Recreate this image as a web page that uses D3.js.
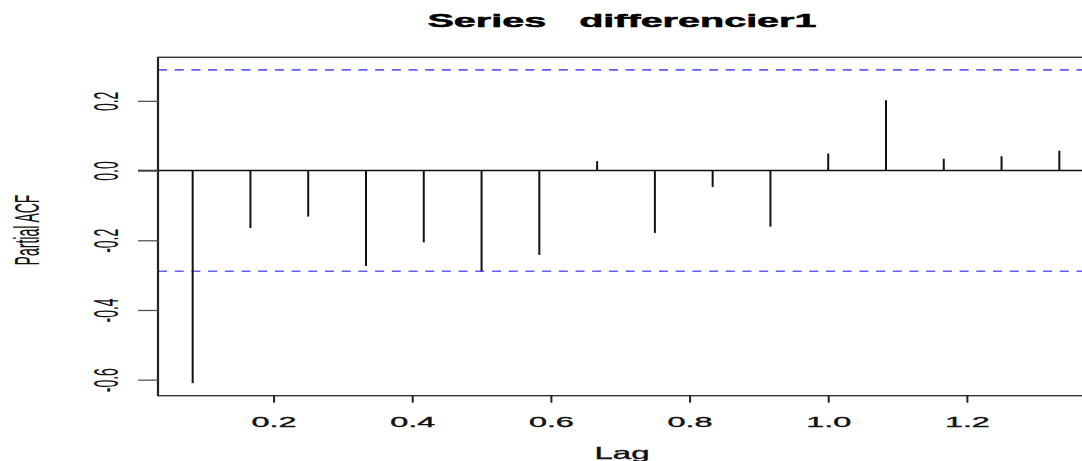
<!DOCTYPE html>
<html>
<head>
<meta charset="utf-8">
<script src="https://cdn.jsdelivr.net/npm/d3@7"></script>
<style>
  body { margin: 0; background: #fff; }
  svg { display: block; font-family: "Liberation Sans", Arial, sans-serif; }
  .keep-space { white-space: pre; }
</style>
</head>
<body>
<svg id="chart" width="1082" height="461"></svg>
<script>
// lag in months, series frequency 12 -> lag axis in years
let lagMonths = [1, 2, 3, 4, 5, 6, 7, 8, 9, 10, 11, 12, 13, 14, 15, 16];
let frequency = 12;
let pacfValues = [-0.610, -0.165, -0.132, -0.274, -0.206, -0.289, -0.242, 0.027,
                  -0.179, -0.047, -0.161, 0.049, 0.202, 0.034, 0.041, 0.057];
let confLimit = 0.289;
let xTicks = [0.2, 0.4, 0.6, 0.8, 1.0, 1.2];
let yTicks = [-0.6, -0.4, -0.2, 0.0, 0.2];
let titleText = "Series   differencier1";

let data = lagMonths.map((m, i) => ({ lag: m / frequency, value: pacfValues[i] }));

let svg = d3.select("#chart");
let plotLeft = 158, plotRight = 1094, plotTop = 57.3, plotBottom = 395.7;

// R style limits: data range padded by 4%
let xExt = d3.extent(data, d => d.lag);
let xPad = (xExt[1] - xExt[0]) * 0.04;
let x = d3.scaleLinear().domain([xExt[0] - xPad, xExt[1] + xPad]).range([plotLeft, plotRight]);

let yExt = d3.extent(pacfValues.concat([-confLimit, confLimit]));
let yPad = (yExt[1] - yExt[0]) * 0.04;
let y = d3.scaleLinear().domain([yExt[0] - yPad, yExt[1] + yPad]).range([plotBottom, plotTop]);

// the original picture is stretched sideways, so glyphs are widened
let stretch = 2.45;

// title
svg.append("text")
    .attr("class", "keep-space")
    .attr("x", 622).attr("y", 27)
    .attr("text-anchor", "middle")
    .attr("font-size", 19).attr("font-weight", "bold")
    .attr("textLength", 389).attr("lengthAdjust", "spacingAndGlyphs")
    .attr("stroke", "#000").attr("stroke-width", 0.5)
    .text(titleText);

// zero line
svg.append("line")
    .attr("x1", plotLeft - 20).attr("x2", plotRight)
    .attr("y1", y(0)).attr("y2", y(0))
    .attr("stroke", "#111").attr("stroke-width", 1.4);

// confidence bands
[confLimit, -confLimit].forEach(c => {
    svg.append("line")
        .attr("x1", plotLeft).attr("x2", plotRight)
        .attr("y1", y(c)).attr("y2", y(c))
        .attr("stroke", "#5f5fff").attr("stroke-width", 1.6)
        .attr("stroke-dasharray", "9,7.7");
});

// spikes
svg.selectAll(".spike")
    .data(data)
    .enter().append("line")
    .attr("class", "spike")
    .attr("x1", d => x(d.lag)).attr("x2", d => x(d.lag))
    .attr("y1", y(0)).attr("y2", d => y(d.value))
    .attr("stroke", "#111").attr("stroke-width", 2);

// box
svg.append("rect")
    .attr("x", plotLeft).attr("y", plotTop)
    .attr("width", plotRight - plotLeft).attr("height", plotBottom - plotTop)
    .attr("fill", "none").attr("stroke", "#333").attr("stroke-width", 1.4);
svg.append("line")
    .attr("x1", plotLeft).attr("x2", plotLeft).attr("y1", plotTop).attr("y2", plotBottom)
    .attr("stroke", "#222").attr("stroke-width", 2.2);

// x axis
let xAxis = svg.append("g")
    .attr("transform", `translate(0,${plotBottom})`)
    .call(d3.axisBottom(x).tickValues(xTicks).tickSize(7).tickFormat(d => d.toFixed(1)));
xAxis.select(".domain").remove();
xAxis.selectAll(".tick line").attr("stroke", "#222").attr("stroke-width", 2);
xAxis.selectAll(".tick text")
    .attr("y", 31.3).attr("dy", null)
    .attr("font-size", 14.5).attr("fill", "#111")
    .attr("stroke", "#111").attr("stroke-width", 0.35)
    .attr("textLength", 45).attr("lengthAdjust", "spacingAndGlyphs");

// y axis
let yAxis = svg.append("g")
    .attr("transform", `translate(${plotLeft},0)`)
    .call(d3.axisLeft(y).tickValues(yTicks).tickSize(20).tickFormat(d => d.toFixed(1)));
yAxis.select(".domain").remove();
yAxis.selectAll(".tick line").attr("stroke", "#555").attr("stroke-width", 1.3);
yAxis.selectAll(".tick text")
    .attr("x", null).attr("dy", null)
    .attr("text-anchor", "middle")
    .attr("font-size", 14).attr("fill", "#111")
    .attr("transform", `translate(-40,0) scale(${stretch},1) rotate(-90)`);

// axis titles
svg.append("text")
    .attr("x", 622).attr("y", 459)
    .attr("text-anchor", "middle")
    .attr("font-size", 16.5).attr("fill", "#111")
    .attr("stroke", "#111").attr("stroke-width", 0.35)
    .attr("textLength", 55).attr("lengthAdjust", "spacingAndGlyphs")
    .text("Lag");

svg.append("text")
    .attr("text-anchor", "middle")
    .attr("font-size", 14).attr("fill", "#111")
    .attr("transform", `translate(39,230) scale(${stretch},1) rotate(-90)`)
    .text("Partial ACF");
</script>
</body>
</html>
